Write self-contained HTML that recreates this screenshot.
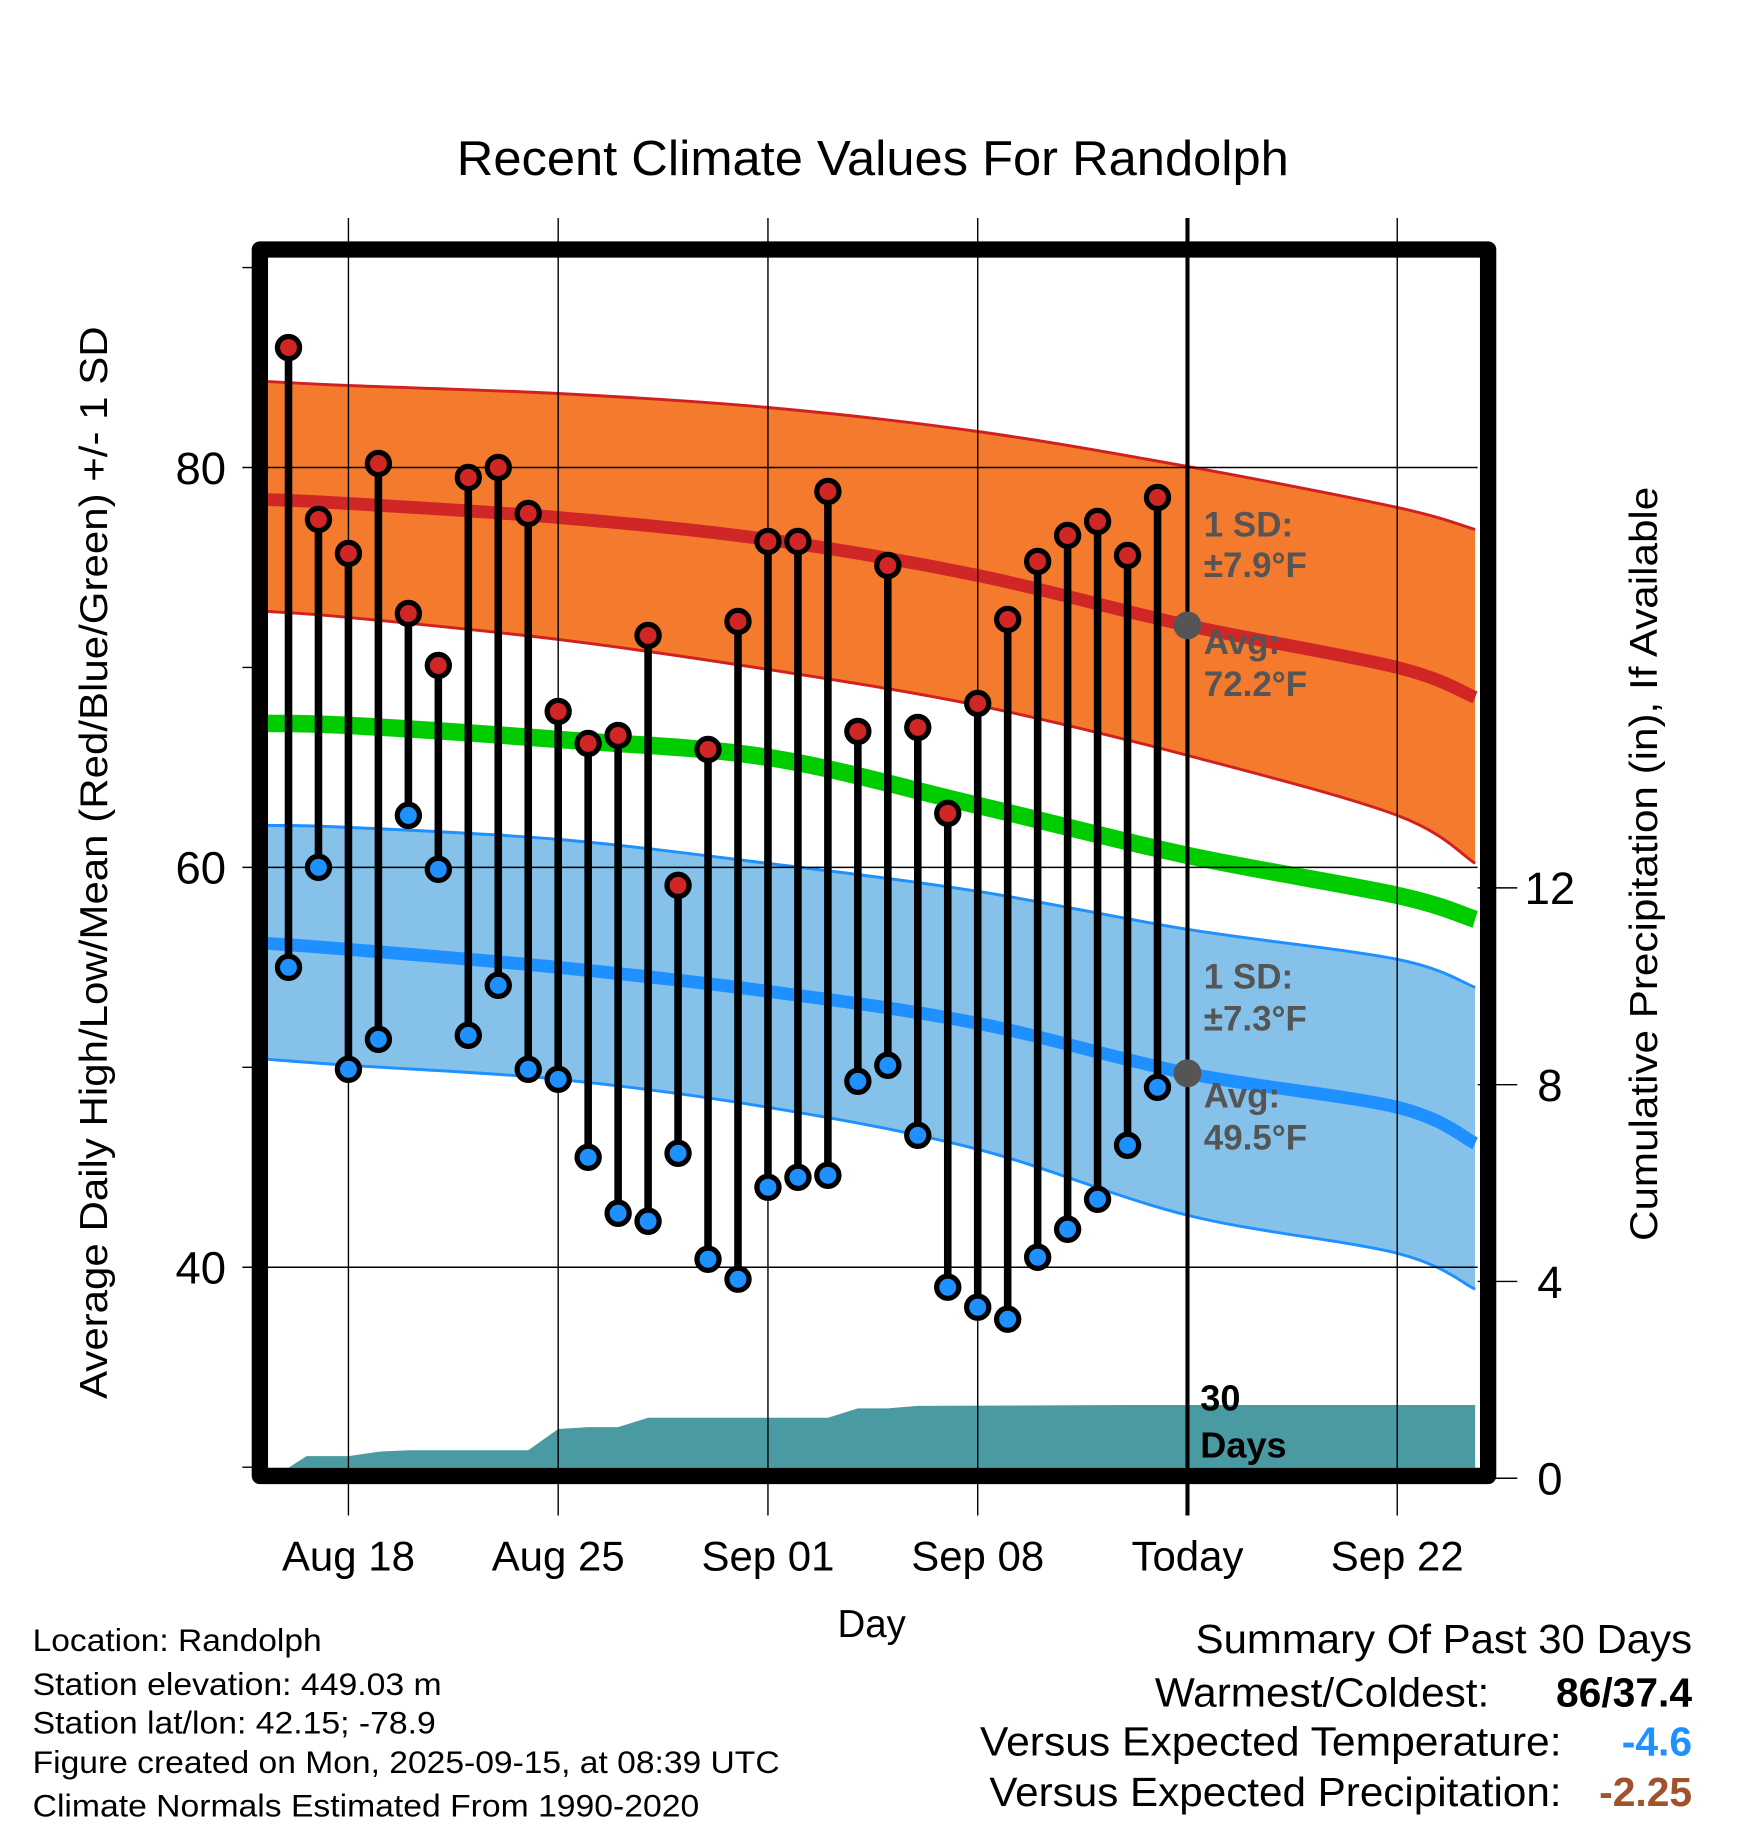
<!DOCTYPE html>
<html><head><meta charset="utf-8"><style>
html,body{margin:0;padding:0;background:#fff;}
svg{display:block;font-family:"Liberation Sans",Arial,sans-serif;}
</style></head><body>
<svg id="chart" width="1748" height="1828" viewBox="0 0 1500 1568" preserveAspectRatio="none" xmlns="http://www.w3.org/2000/svg">
<g id="g"></g>
</svg>
<script>
// ---- data ----
const dayLabels = ["Aug 18","Aug 25","Sep 01","Sep 08","Today","Sep 22"];
const dayLabelOffsets = [0,7,14,21,28,35]; // days after Aug 18
const obsStart = -2; // Aug 16 relative to Aug 18
const highs = [86,77.4,75.7,80.2,72.7,70.1,79.5,80.0,77.7,67.8,66.2,66.6,71.6,59.1,65.9,72.3,76.3,76.3,78.8,66.8,75.1,67.0,62.7,68.2,72.4,75.3,76.6,77.3,75.6,78.5];
const lows  = [55.0,60.0,49.9,51.4,62.6,59.9,51.6,54.1,49.9,49.4,45.5,42.7,42.3,45.7,40.4,39.4,44.0,44.5,44.6,49.3,50.1,46.6,39.0,38.0,37.4,40.5,41.9,43.4,46.1,49.0];
const normDays = [-2.7,0,7,14,21,28,35,37.6];
const highUpper = [84.3,84.1,83.7,83.0,81.8,80.05,78.0,76.9];
const highMean  = [78.4,78.2,77.5,76.4,74.6,72.1,70.0,68.5];
const highLower = [72.8,72.5,71.4,69.9,68.1,65.6,62.6,60.2];
const meanTemp  = [67.2,67.1,66.4,65.5,63.1,60.6,58.6,57.4];
const lowUpper  = [62.1,62.0,61.4,60.2,58.8,56.9,55.4,54.0];
const lowMean   = [56.2,55.9,55.0,53.8,52.2,49.7,48.0,46.2];
const lowLower  = [50.4,50.1,49.4,48.0,45.9,42.6,40.7,38.9];
const precipDays = [-2.5,-2,-1.4,0,1,2,6,7,8,9,10,16,17,18,19,26,37.6];
const precip     = [0,0,0.45,0.45,0.54,0.57,0.57,1.0,1.04,1.04,1.23,1.23,1.42,1.42,1.47,1.49,1.49];
const yTicks = [40,60,80];
const yMinor = [30,50,70,90];
const pTicks = [0,4,8,12];

// ---- axes ----
const L=230,R=1268,T=221,B=1259;
const x = d => 299 + d*180/7;
const y = v => 401 - (v-80)*17.15;
const py = p => 1268 - p*42.2;
const NS="http://www.w3.org/2000/svg";
const g=document.getElementById('g');
function el(tag,attrs,parent){const e=document.createElementNS(NS,tag);for(const k in attrs)e.setAttribute(k,attrs[k]);(parent||g).appendChild(e);return e;}
function txt(s,attrs){const e=el('text',attrs);e.textContent=s;return e;}
const clip=el('clipPath',{id:'pc'});el('rect',{x:L,y:T,width:R-L,height:B-T},clip);
const pa=el('g',{'clip-path':'url(#pc)'});

// smooth (Catmull-Rom) path through points
function smooth(pts,start){
  let d=start?'M'+pts[0][0]+','+pts[0][1]:'L'+pts[0][0]+','+pts[0][1];
  for(let i=0;i<pts.length-1;i++){
    const p0=pts[Math.max(0,i-1)],p1=pts[i],p2=pts[i+1],p3=pts[Math.min(pts.length-1,i+2)];
    const c1=[p1[0]+(p2[0]-p0[0])/6,p1[1]+(p2[1]-p0[1])/6];
    const c2=[p2[0]-(p3[0]-p1[0])/6,p2[1]-(p3[1]-p1[1])/6];
    d+='C'+c1[0]+','+c1[1]+' '+c2[0]+','+c2[1]+' '+p2[0]+','+p2[1];
  }
  return d;
}
const pts = a => normDays.map((dd,i)=>[x(dd),y(a[i])]);

function band(up,lo,fill,stroke,name){
  const d=smooth(pts(up),true)+smooth(pts(lo).reverse(),false)+'Z';
  const p=el('path',{d:d,fill:fill},pa);
  
  
  [up,lo].forEach(a=>{el('path',{d:smooth(pts(a),true),fill:'none',stroke:stroke,'stroke-width':2.5},pa);});
}
function line(a,stroke,w,name){
  const p=el('path',{d:smooth(pts(a),true),fill:'none',stroke:stroke,'stroke-width':w},pa);
  
  
}
band(highUpper,highLower,'#f47a2e','#d02020','high-sd-band');
band(lowUpper,lowLower,'#85c1e9','#1e90ff','low-sd-band');
line(highMean,'#d02626',11,'normal-high-line');
line(meanTemp,'#00cc00',15,'normal-mean-line');
line(lowMean,'#1e90ff',11,'normal-low-line');

// precip
let pd='M'+x(precipDays[0])+','+B;
precipDays.forEach((dd,i)=>pd+='L'+x(dd)+','+Math.min(B,py(precip[i])));
pd+='L'+x(precipDays[precipDays.length-1])+','+B+'Z';
const pp=el('path',{d:pd,fill:'#4a9aa3'},pa);



// grid
dayLabelOffsets.forEach((d,i)=>{
  el('line',{x1:x(d),x2:x(d),y1:187,y2:1300,stroke:'#000','stroke-width':i==4?3.5:1.2});
});
yTicks.forEach(v=>{el('line',{x1:208,x2:R,y1:y(v),y2:y(v),stroke:'#000','stroke-width':1.2});});
yMinor.forEach(v=>{el('line',{x1:208,x2:L,y1:y(v),y2:y(v),stroke:'#000','stroke-width':1.2});});
pTicks.forEach(p=>{el('line',{x1:R,x2:1302,y1:py(p),y2:py(p),stroke:'#000','stroke-width':1.2});});

// observations
highs.forEach((h,i)=>{
  const cx=x(obsStart+i);
  const s=el('line',{x1:cx,x2:cx,y1:y(h),y2:y(lows[i]),stroke:'#000','stroke-width':6.5});
  
  
  const c1=el('circle',{cx:cx,cy:y(h),r:9.5,fill:'#d02626',stroke:'#000','stroke-width':4.5});
  
  
  const c2=el('circle',{cx:cx,cy:y(lows[i]),r:9.5,fill:'#1e90ff',stroke:'#000','stroke-width':4.5});
  
  
});
el('circle',{cx:x(28),cy:y(highMean[5]),r:12,fill:'#555'});
el('circle',{cx:x(28),cy:y(lowMean[5]),r:12,fill:'#555'});

// frame
const fr=el('rect',{x:223,y:214,width:1054,height:1052,fill:'none',stroke:'#000','stroke-width':14,'stroke-linejoin':'round'});



// labels
const ann=[['1 SD:',460],['±7.9°F',495],['Avg:',561],['72.2°F',597],['1 SD:',848],['±7.3°F',884],['Avg:',950],['49.5°F',986]];
ann.forEach(a=>{const t=txt(a[0],{x:1033,y:a[1],'font-size':30,'font-weight':'bold',fill:'#555'});
  });
txt('30',{x:1030,y:1210,'font-size':31,'font-weight':'bold',fill:'#000'});
txt('Days',{x:1030,y:1250,'font-size':31,'font-weight':'bold',fill:'#000'});

dayLabels.forEach((s,i)=>{const t=txt(s,{x:x(dayLabelOffsets[i]),y:1347,'font-size':36,'text-anchor':'middle'});
  });
yTicks.forEach(v=>{const t=txt(String(v),{x:194,y:y(v)+14,'font-size':39,'text-anchor':'end'});
  });
pTicks.forEach(p=>{const t=txt(String(p),{x:1330,y:py(p)+14,'font-size':39,'text-anchor':'middle'});
  });
</script>
<svg style="position:absolute;left:0;top:0" width="1748" height="1828" viewBox="0 0 1500 1568" preserveAspectRatio="none" font-family="Liberation Sans, Arial, sans-serif">
<text x="749" y="150" font-size="42" text-anchor="middle" textLength="714" lengthAdjust="spacingAndGlyphs">Recent Climate Values For Randolph</text>
<text transform="translate(92,740) rotate(-90)" font-size="33" text-anchor="middle" textLength="920" lengthAdjust="spacingAndGlyphs">Average Daily High/Low/Mean (Red/Blue/Green) +/- 1 SD</text>
<text transform="translate(1422,741) rotate(-90)" font-size="33" text-anchor="middle" textLength="647" lengthAdjust="spacingAndGlyphs">Cumulative Precipitation (in), If Available</text>
<text x="748" y="1404" font-size="33" text-anchor="middle">Day</text>
<g font-size="27">
<text x="28" y="1416" textLength="248" lengthAdjust="spacingAndGlyphs">Location: Randolph</text>
<text x="28" y="1454" textLength="351" lengthAdjust="spacingAndGlyphs">Station elevation: 449.03 m</text>
<text x="28" y="1487" textLength="346" lengthAdjust="spacingAndGlyphs">Station lat/lon: 42.15; -78.9</text>
<text x="28" y="1521" textLength="641" lengthAdjust="spacingAndGlyphs">Figure created on Mon, 2025-09-15, at 08:39 UTC</text>
<text x="28" y="1558" textLength="572" lengthAdjust="spacingAndGlyphs">Climate Normals Estimated From 1990-2020</text>
</g>
<g font-size="35">
<text x="1026" y="1418" textLength="426" lengthAdjust="spacingAndGlyphs">Summary Of Past 30 Days</text>
<text x="991" y="1464" textLength="287" lengthAdjust="spacingAndGlyphs">Warmest/Coldest:</text>
<text x="1452" y="1464" text-anchor="end" font-weight="bold">86/37.4</text>
<text x="841" y="1506" textLength="499" lengthAdjust="spacingAndGlyphs">Versus Expected Temperature:</text>
<text x="1452" y="1506" text-anchor="end" font-weight="bold" fill="#1e90ff">-4.6</text>
<text x="849" y="1549" textLength="491" lengthAdjust="spacingAndGlyphs">Versus Expected Precipitation:</text>
<text x="1452" y="1549" text-anchor="end" font-weight="bold" fill="#a0522d">-2.25</text>
</g>
</svg>
</body></html>
